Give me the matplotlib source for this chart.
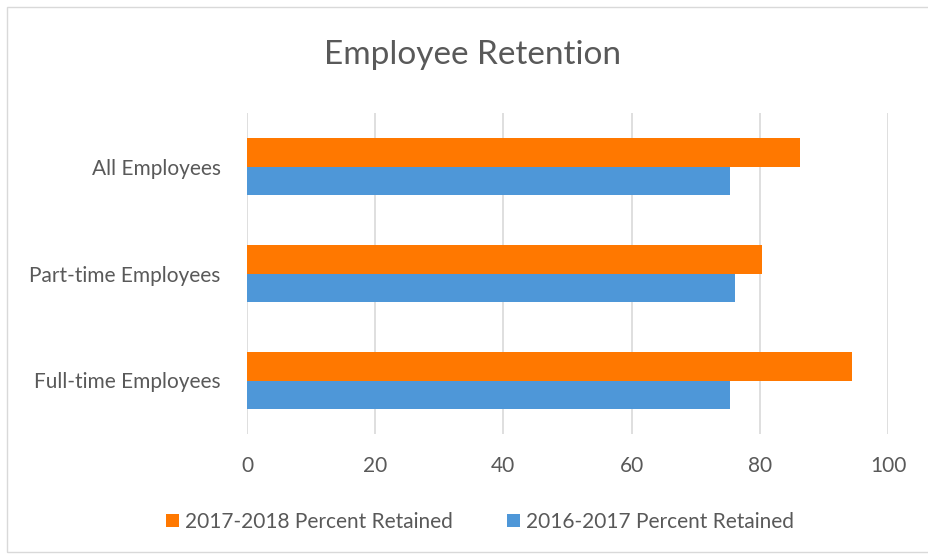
import matplotlib.pyplot as plt
from matplotlib.patches import Rectangle
import numpy as np

plt.rcParams['font.family'] = ['Lato', 'DejaVu Sans']

# data (bottom to top, as Excel draws it)
categories = ["Full-time Employees", "Part-time Employees", "All Employees"]
retained_1718 = [94.4, 80.3, 86.3]
retained_1617 = [75.4, 76.2, 75.4]
series_labels = ["2017-2018 Percent Retained", "2016-2017 Percent Retained"]
x_ticks = [0, 20, 40, 60, 80, 100]

orange = "#ff7800"
blue = "#4e97d8"
text_col = "#595959"

fig = plt.figure(figsize=(9.29, 5.56), dpi=100)
ax = fig.add_axes([247 / 929, 1 - 434 / 556, (888 - 247) / 929, (434 - 113) / 556])

# outer chart border
fig.patches.append(Rectangle((7 / 929, 4 / 556), 1.0, 1 - 11 / 556, transform=fig.transFigure,
                             fill=False, edgecolor="#d9d9d9", linewidth=1))

y = np.arange(len(categories))
h = 0.262
ax.barh(y + h / 2, retained_1718, height=h, color=orange, label=series_labels[0], zorder=3)
ax.barh(y - h / 2, retained_1617, height=h, color=blue, label=series_labels[1], zorder=3)

ax.set_xlim(0, 100)
ax.set_ylim(-0.5, 2.5)
ax.set_xticks(x_ticks)
ax.set_yticks(y)
ax.set_yticklabels(categories)
ax.grid(axis="x", color="#d9d9d9", linewidth=1.2, zorder=0)
for s in ax.spines.values():
    s.set_visible(False)
ax.tick_params(length=0, labelsize=15, labelcolor=text_col)
ax.tick_params(axis="x", pad=16)
ax.tick_params(axis="y", pad=19)

fig.text(472 / 929, 1 - 55 / 556, "Employee Retention", ha="center", va="center",
         fontsize=24, color=text_col)

fig.legend(loc="center", bbox_to_anchor=(480 / 929, 1 - 522 / 556), ncol=2, frameon=False,
           fontsize=15, labelcolor=text_col, handlelength=0.6, handleheight=0.6,
           handletextpad=0.3, columnspacing=2.6)

fig.savefig("out.png", dpi=100)
